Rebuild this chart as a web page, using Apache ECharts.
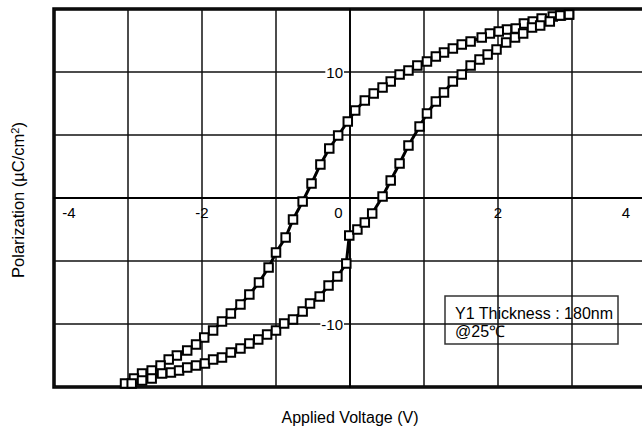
<!DOCTYPE html>
<html>
<head>
<meta charset="utf-8">
<script src="https://cdn.jsdelivr.net/npm/echarts@6/dist/echarts.min.js"></script>
<style>
  html, body { margin: 0; padding: 0; background: #fff; }
  #chart { width: 642px; height: 430px; }
</style>
</head>
<body>
<div id="chart"></div>
<script>
// P-E hysteresis loop of a 180 nm Y1 film measured at 25 °C

// Voltage sweep going down from +V max (upper branch), V
const downVoltage = [2.96, 2.85, 2.74, 2.59, 2.47, 2.35, 2.24, 2.12, 2.01, 1.89,
  1.78, 1.63, 1.51, 1.39, 1.27, 1.16, 1.04, 0.91, 0.79, 0.67,
  0.55, 0.44, 0.32, 0.20, 0.07, -0.03, -0.16, -0.28, -0.40, -0.52,
  -0.64, -0.77, -0.87, -1.00, -1.10, -1.23, -1.36, -1.48, -1.61, -1.73,
  -1.85, -1.97, -2.08, -2.20, -2.34, -2.45, -2.56, -2.68, -2.81, -2.92, -3.04];
// Polarization on the upper branch, µC/cm²
const downPolarization = [14.56, 14.48, 14.40, 14.25, 14.01, 13.85, 13.45, 13.37, 13.21, 13.06,
  12.74, 12.42, 12.18, 11.87, 11.55, 11.23, 10.83, 10.52, 10.12, 9.80,
  9.25, 8.77, 8.29, 7.74, 6.94, 6.07, 4.96, 3.93, 2.66, 1.15,
  -0.28, -1.71, -3.13, -4.33, -5.52, -6.71, -7.66, -8.45, -9.17, -9.80,
  -10.52, -11.07, -11.63, -12.10, -12.50, -12.82, -13.29, -13.69, -13.93, -14.33, -14.72];

// Voltage sweep going up from -V max (lower branch), V
const upVoltage = [-2.95, -2.81, -2.68, -2.54, -2.42, -2.31, -2.20, -2.08, -1.96, -1.85,
  -1.73, -1.61, -1.48, -1.36, -1.24, -1.12, -1.00, -0.89, -0.77, -0.64,
  -0.54, -0.41, -0.29, -0.17, -0.05, -0.01, 0.10, 0.20, 0.30, 0.44,
  0.55, 0.67, 0.79, 0.94, 1.04, 1.16, 1.27, 1.39, 1.51, 1.63,
  1.75, 1.86, 1.98, 2.11, 2.23, 2.34, 2.46, 2.57, 2.70, 2.84, 2.96];
// Polarization on the lower branch, µC/cm²
const upPolarization = [-14.72, -14.48, -14.33, -13.93, -13.85, -13.69, -13.45, -13.29, -13.13, -12.82,
  -12.66, -12.26, -11.94, -11.55, -11.23, -10.83, -10.52, -9.96, -9.64, -9.01,
  -8.37, -7.82, -6.94, -6.23, -5.20, -2.98, -2.50, -1.94, -1.23, 0.12,
  1.39, 2.74, 4.17, 5.67, 6.71, 7.66, 8.37, 9.25, 9.80, 10.52,
  10.99, 11.39, 11.79, 12.34, 12.74, 13.06, 13.53, 13.69, 14.01, 14.48, 14.56];

// Axis ticks that carry a label
const voltageTickLabels = [-4, -2, 0, 2, 4];
const polarizationTickLabels = [-10, 10];

const xTitle = 'Applied Voltage (V)';
const noteLines = ['Y1 Thickness : 180nm', '@25℃'];

const FONT = '"Liberation Sans", Arial, Helvetica, sans-serif';

// Plot frame; the right edge runs just past the canvas
const GRID = { left: 54, right: -4, top: 9, bottom: 43 };
const W = 642, H = 430;
const plotW = W - GRID.left - GRID.right;
const plotH = H - GRID.top - GRID.bottom;
const X_MIN = -4, X_MAX = 4, Y_MIN = -15, Y_MAX = 15;
// Shift each axis from the frame edge to the other axis' zero
const xAxisShift = -plotH * (0 - Y_MIN) / (Y_MAX - Y_MIN);
const yAxisShift = -plotW * (0 - X_MIN) / (X_MAX - X_MIN);

function pairs(xs, ys) {
  return xs.map((x, i) => [x, ys[i]]);
}

const chart = echarts.init(document.getElementById('chart'), null, { renderer: 'svg' });

const branchStyle = {
  type: 'line',
  symbol: 'rect',
  symbolSize: 8.5,
  showAllSymbol: true,
  itemStyle: { color: '#fff', borderColor: '#000', borderWidth: 2 },
  lineStyle: { color: '#000', width: 3 },
  emphasis: { disabled: true },
  silent: true
};

chart.setOption({
  animation: false,
  backgroundColor: '#fff',
  textStyle: { fontFamily: FONT },
  grid: Object.assign({
    outerBoundsMode: 'none', containLabel: false,
    show: true, borderColor: '#000', borderWidth: 3.5, backgroundColor: '#fff'
  }, GRID),
  xAxis: {
    type: 'value', min: X_MIN, max: X_MAX, interval: 1,
    position: 'bottom', offset: xAxisShift,
    axisLine: { onZero: false, lineStyle: { color: '#000', width: 1.8 } },
    axisTick: { show: false },
    splitLine: { show: true, lineStyle: { color: '#111', width: 1.5 } },
    axisLabel: {
      margin: 7, fontSize: 15, color: '#000', fontFamily: FONT,
      showMinLabel: true, showMaxLabel: true, hideOverlap: false,
      formatter: function (v) {
        if (voltageTickLabels.indexOf(v) < 0) return '';
        if (v === voltageTickLabels[0]) return '{lo|' + v + '}';
        if (v === voltageTickLabels[voltageTickLabels.length - 1]) return '{hi|' + v + '}';
        if (v === 0) return '{zero|' + v + '}';
        return String(v);
      },
      rich: {
        lo: { fontSize: 15, color: '#000', fontFamily: FONT, padding: [0, 0, 0, 30] },
        hi: { fontSize: 15, color: '#000', fontFamily: FONT, padding: [0, 40, 0, 0] },
        zero: { fontSize: 15, color: '#000', fontFamily: FONT, padding: [0, 23, 0, 0] }
      }
    }
  },
  yAxis: {
    type: 'value', min: Y_MIN, max: Y_MAX, interval: 5,
    position: 'left', offset: yAxisShift,
    axisLine: { onZero: false, lineStyle: { color: '#000', width: 1.8 } },
    axisTick: { show: false },
    splitLine: { show: true, lineStyle: { color: '#111', width: 1.5 } },
    axisLabel: {
      margin: 6, fontSize: 15, color: '#000', fontFamily: FONT,
      backgroundColor: '#fff', padding: [0, 1], hideOverlap: false,
      formatter: function (v) {
        return polarizationTickLabels.indexOf(v) >= 0 ? String(v) : '';
      }
    }
  },
  graphic: [
    {
      type: 'text', x: 350, y: 417,
      style: { text: xTitle, font: '16px ' + FONT, fill: '#000', align: 'center', verticalAlign: 'middle' }
    },
    {
      type: 'text', x: 18, y: 200, rotation: Math.PI / 2,
      style: {
        text: 'Polarization (µC/cm{sup|2})',
        font: '16.5px ' + FONT, fill: '#000',
        align: 'center', verticalAlign: 'middle',
        rich: {
          sup: { fontSize: 11, fontFamily: FONT, fill: '#000', verticalAlign: 'top', padding: [0, 0, 7, 0] }
        }
      }
    },
    {
      type: 'group', x: 445, y: 296,
      children: [
        {
          type: 'rect', shape: { x: 0, y: 0, width: 173, height: 48 },
          style: { fill: '#fff', stroke: '#333', lineWidth: 1.5 }
        },
        {
          type: 'text', x: 10, y: 8,
          style: {
            text: noteLines.join('\n'), font: '16px ' + FONT, fill: '#000',
            lineHeight: 18
          }
        }
      ]
    }
  ],
  series: [
    Object.assign({ name: 'down', data: pairs(downVoltage, downPolarization) }, branchStyle),
    Object.assign({ name: 'up', data: pairs(upVoltage, upPolarization) }, branchStyle)
  ]
});
</script>
</body>
</html>
